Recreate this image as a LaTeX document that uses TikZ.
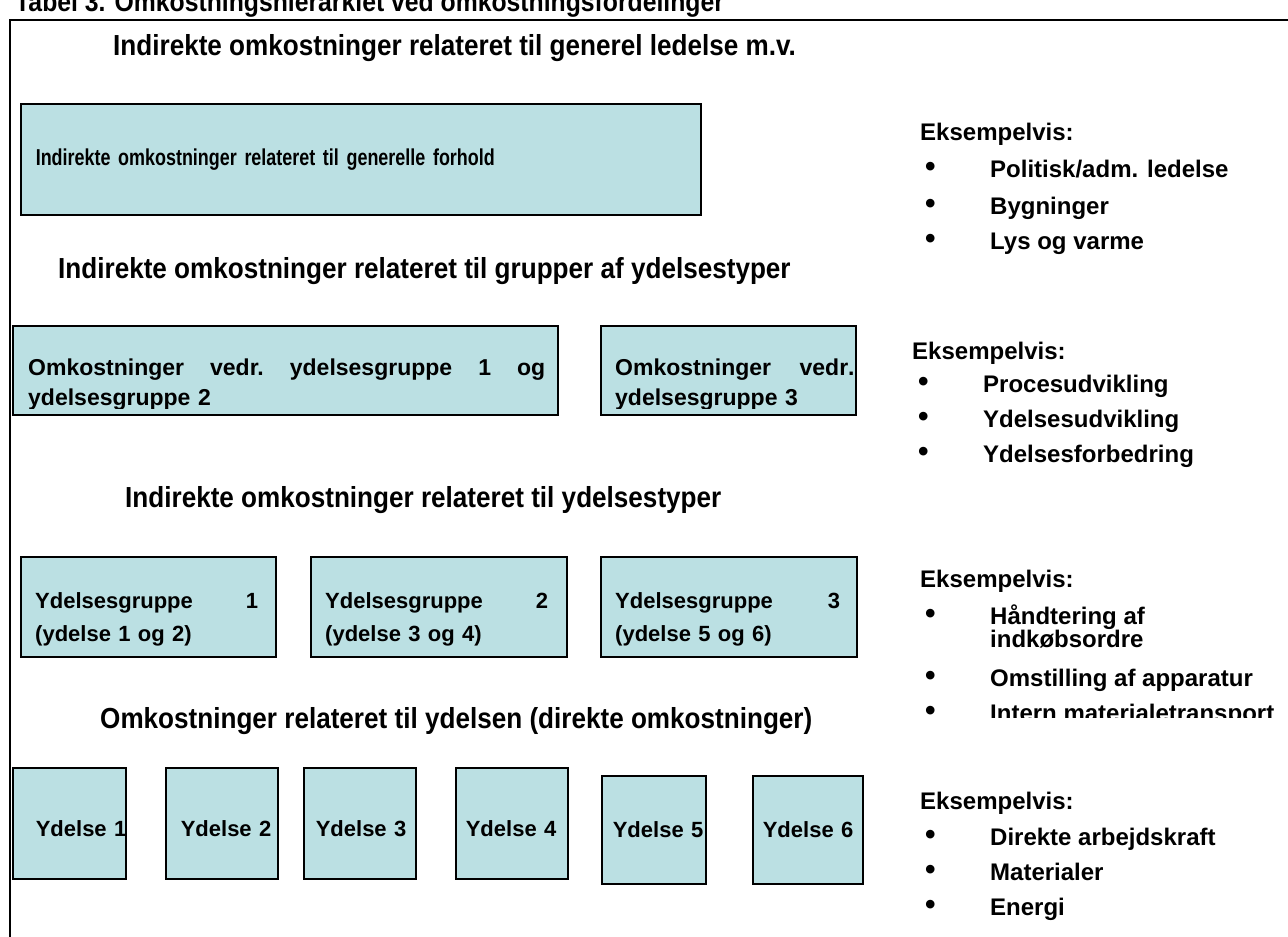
\documentclass[tikz,border=0pt]{standalone}
\usepackage{fontspec}
\setmainfont{Liberation Sans}
\newfontfamily\headfont{Liberation Sans}[FakeStretch=0.9]
\newfontfamily\narrowfont{Liberation Sans}[FakeStretch=0.78]
\usepackage{xcolor}
\usetikzlibrary{positioning}
\definecolor{boxfill}{RGB}{187,224,227}
\newcommand{\blt}{\makebox[65pt][l]{\raisebox{1pt}{\fontsize{30}{30}\selectfont\textbullet}}}

\begin{document}
\begin{tikzpicture}[
  x=1pt, y=-1pt,
  box/.style={rectangle, draw=black, fill=boxfill, line width=1.6pt,
              anchor=north west, inner ysep=0pt},
  boxtxt/.style={anchor=north west, inner sep=0pt, align=left,
              font=\bfseries\fontsize{23}{30}\selectfont},
  ybox/.style={box, align=left, font=\bfseries\fontsize{22}{26}\selectfont},
  heading/.style={anchor=base west, inner sep=0pt, font=\headfont\bfseries\fontsize{29}{34}\selectfont},
  eks/.style={anchor=base west, inner sep=0pt, align=left, font=\bfseries\fontsize{24}{23}\selectfont},
  frame/.style={line width=2pt, black}
]
\useasboundingbox (0,0) rectangle (1288,937);
\clip (0,0) rectangle (1288,937);

% title, cut at the top of the page
\node[heading, font=\headfont\bfseries\fontsize{27.5}{30}\selectfont] (title) at (15,11)
  {Tabel 3. Omkostningshierarkiet ved omkostningsfordelinger};
\draw[frame] (10,937) -- (10,20) -- (1288,20);

% level 1
\node[heading] (h1) at (113,55) {Indirekte omkostninger relateret til generel ledelse m.v.};
\node[box, minimum height=111, inner xsep=15, text width=650, align=left,
      font=\narrowfont\bfseries\fontsize{23}{26}\selectfont] (gen) at (20,103)
  {Indirekte omkostninger relateret til generelle forhold};
\node[eks] (eks1) at (920,140) {Eksempelvis:};
\node[eks] (eks1a) at (925,177) {\blt Politisk/adm. ledelse};
\node[eks] (eks1b) at (925,214) {\blt Bygninger};
\node[eks] (eks1c) at (925,249) {\blt Lys og varme};

% level 2
\node[heading] (h2) at (58,278) {Indirekte omkostninger relateret til grupper af ydelsestyper};
\node[box, minimum width=545, minimum height=89] (grp12) at (12,325) {};
\node[box, minimum width=255, minimum height=89] (grp3) at (600,325) {};
\begin{scope}
  \clip (0,330) rectangle (900,408);
  \node[boxtxt, text width=517] (grp12txt) at (28,359)
    {Omkostninger\hfill vedr.\hfill ydelsesgruppe\hfill 1\hfill og\\ydelsesgruppe 2};
  \node[boxtxt, text width=233] (grp3txt) at (615,359)
    {Omkostninger\hfill vedr\rlap{.}\\ydelsesgruppe 3};
\end{scope}
\node[eks] (eks2) at (912,359) {Eksempelvis:};
\node[eks] (eks2a) at (918,392) {\blt Procesudvikling};
\node[eks] (eks2b) at (918,427) {\blt Ydelsesudvikling};
\node[eks] (eks2c) at (918,462) {\blt Ydelsesforbedring};

% level 3
\node[heading] (h3) at (125,507) {Indirekte omkostninger relateret til ydelsestyper};
\node[box, minimum width=255, minimum height=100] (yg1) at (20,556) {};
\node[box, minimum width=256, minimum height=100] (yg2) at (310,556) {};
\node[box, minimum width=256, minimum height=100] (yg3) at (600,556) {};
\node[boxtxt, text width=223, font=\bfseries\fontsize{22}{33}\selectfont] (yg1txt) at (35,592)
  {Ydelsesgruppe\hfill 1\\(ydelse 1 og 2)};
\node[boxtxt, text width=223, font=\bfseries\fontsize{22}{33}\selectfont] (yg2txt) at (325,592)
  {Ydelsesgruppe\hfill 2\\(ydelse 3 og 4)};
\node[boxtxt, text width=225, font=\bfseries\fontsize{22}{33}\selectfont] (yg3txt) at (615,592)
  {Ydelsesgruppe\hfill 3\\(ydelse 5 og 6)};
\node[eks] (eks3) at (920,587) {Eksempelvis:};
\node[eks] (eks3a) at (925,647) {\blt Håndtering af\\\hspace*{65pt}indkøbsordre};
\node[eks] (eks3b) at (925,686) {\blt Omstilling af apparatur};
\begin{scope}
  \clip (900,690) rectangle (1288,717);
  \node[eks] (eks3c) at (925,721) {\blt Intern materialetransport};
\end{scope}

% level 4
\node[heading] (h4) at (100,728) {Omkostninger relateret til ydelsen (direkte omkostninger)};
\node[ybox, minimum height=111, inner xsep=23, text width=67, text height=26pt, text depth=0pt] (y1) at (12,767) {Ydelse~1};
\node[ybox, minimum height=111, inner xsep=15, text width=82, text height=26pt, text depth=0pt] (y2) at (165,767) {Ydelse~2};
\node[ybox, minimum height=111, inner xsep=12, text width=88, text height=26pt, text depth=0pt] (y3) at (303,767) {Ydelse~3};
\node[ybox, minimum height=111, inner xsep=10, text width=92, text height=26pt, text depth=0pt] (y4) at (455,767) {Ydelse~4};
\node[ybox, minimum height=108, inner xsep=11, text width=82] (y5) at (601,775) {Ydelse~5};
\node[ybox, minimum height=108, inner xsep=10, text width=90] (y6) at (752,775) {Ydelse~6};
\node[eks] (eks4) at (920,809) {Eksempelvis:};
\node[eks] (eks4a) at (925,845) {\blt Direkte arbejdskraft};
\node[eks] (eks4b) at (925,880) {\blt Materialer};
\node[eks] (eks4c) at (925,915) {\blt Energi};
\end{tikzpicture}
\end{document}
